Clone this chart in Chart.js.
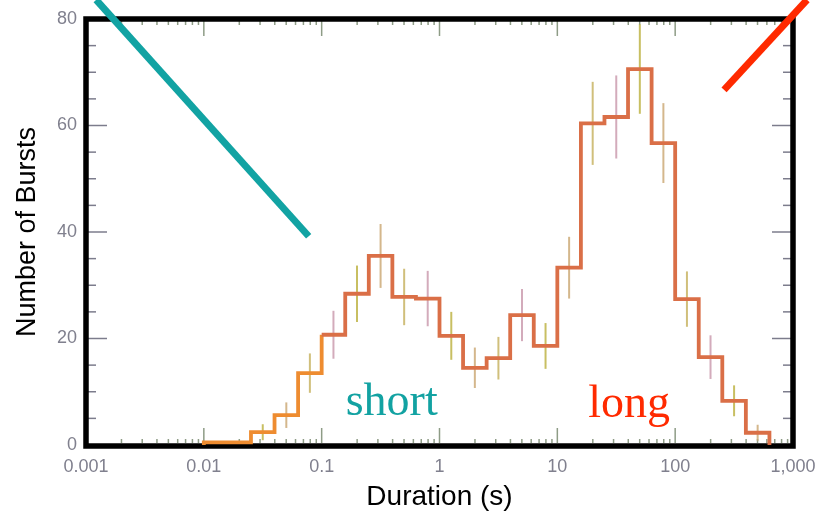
<!DOCTYPE html>
<html><head><meta charset="utf-8">
<script src="https://cdn.jsdelivr.net/npm/chart.js@4.4.1/dist/chart.umd.min.js"></script>
<style>html,body{margin:0;padding:0;background:#fff;}#wrap{width:821px;height:515px;position:relative;}</style>
</head><body><div id="wrap"><canvas id="c" width="821" height="515"></canvas></div>
<script>
// Histogram bins: left edges in log10(seconds), last value is final right edge
const binEdgesLog = [-2.0,-1.8,-1.6,-1.4,-1.2,-1.0,-0.8,-0.6,-0.4,-0.2,0.0,0.2,0.4,0.6,0.8,1.0,1.2,1.4,1.6,1.8,2.0,2.2,2.4,2.6,2.8];
const burstCounts = [0.5,0.5,2.4,5.6,13.5,20.7,28.4,35.5,27.8,27.5,20.5,14.5,16.3,24.4,18.6,33.3,60.4,61.6,70.6,56.7,27.4,16.5,8.3,2.3];
const countErrors = [0,0,1.5,2.4,3.7,4.5,5.3,6.0,5.3,5.2,4.5,3.8,4.0,4.9,4.3,5.8,7.8,7.8,8.4,7.5,5.2,4.1,2.9,1.5];
const xTickValues = [0.001,0.01,0.1,1,10,100,1000];
const xTickLabels = ['0.001','0.01','0.1','1','10','100','1,000'];
const yTickValues = [0,20,40,60,80];
const shortPointer = [{x:0.00122,y:83.6},{x:0.0776,y:39.2}];
const longPointer = [{x:1316,y:83.6},{x:260,y:66.7}];
const classLabels = [
  {text:'short', x:0.16, y:5.6, color:'#12a2a2'},
  {text:'long', x:18.3, y:5.3, color:'#ff2a00'}
];

const histPoints = [{x:Math.pow(10,binEdgesLog[0]), y:0}];
burstCounts.forEach((v,i)=>histPoints.push({x:Math.pow(10,binEdgesLog[i]), y:v}));
histPoints.push({x:Math.pow(10,binEdgesLog[binEdgesLog.length-1]), y:0});

const errPoints = [];
burstCounts.forEach((v,i)=>{
  const c = Math.pow(10,(binEdgesLog[i]+binEdgesLog[i+1])/2);
  errPoints.push({x:c,y:v-countErrors[i]},{x:c,y:v+countErrors[i]},{x:c,y:null});
});
const errColors = ['rgba(200,180,100,0.85)','rgba(200,150,170,0.8)','rgba(190,180,70,0.85)','rgba(205,170,120,0.85)'];

const frameTicks = {
  id:'frameTicks',
  beforeDatasetsDraw(chart){
    const {ctx, chartArea:a, scales:{x,y}} = chart;
    ctx.save();
    ctx.lineWidth = 1.5;
    ctx.strokeStyle = '#8e9c86';
    for (let d=-3; d<=3; d++){
      for (let m=1; m<=9; m++){
        const v = m*Math.pow(10,d);
        if (v>1000.001) break;
        const px = x.getPixelForValue(v);
        const len = m===1 ? 15 : 4;
        ctx.beginPath(); ctx.moveTo(px, a.bottom-2); ctx.lineTo(px, a.bottom-2-len); ctx.stroke();
        ctx.beginPath(); ctx.moveTo(px, a.top+2); ctx.lineTo(px, a.top+2+len); ctx.stroke();
      }
    }
    ctx.strokeStyle = '#7c7c8c';
    for (let v=0; v<=80; v+=5){
      const py = y.getPixelForValue(v);
      const len = v%20===0 ? 19 : 8;
      ctx.beginPath(); ctx.moveTo(a.left+2, py); ctx.lineTo(a.left+2+len, py); ctx.stroke();
      ctx.beginPath(); ctx.moveTo(a.right-2, py); ctx.lineTo(a.right-2-len, py); ctx.stroke();
    }
    ctx.lineWidth = 5.5;
    ctx.strokeStyle = '#000';
    ctx.strokeRect(a.left, a.top, a.right-a.left, a.bottom-a.top+1);
    ctx.restore();
  },
  afterDatasetsDraw(chart){
    const {ctx, scales:{x,y}} = chart;
    ctx.save();
    ctx.font = '46px "Liberation Serif", "Times New Roman", serif';
    ctx.textBaseline = 'alphabetic';
    ctx.textAlign = 'left';
    classLabels.forEach(l=>{
      ctx.fillStyle = l.color;
      ctx.fillText(l.text, x.getPixelForValue(l.x), y.getPixelForValue(l.y));
    });
    ctx.restore();
  }
};

new Chart(document.getElementById('c'), {
  type:'line',
  data:{datasets:[
    {data:shortPointer, borderColor:'#12a3a3', borderWidth:7, pointRadius:0, clip:false, borderCapStyle:'butt'},
    {data:longPointer, borderColor:'#ff2a00', borderWidth:7, pointRadius:0, clip:false, borderCapStyle:'butt'},
    {data:histPoints, stepped:'before', borderWidth:3.8, pointRadius:0, borderColor:'#da6f47',
      segment:{borderColor:c=> c.p0.parsed.x < 0.08 ? '#ee8c30' : '#da6f47'}},
    {data:errPoints, borderWidth:2, pointRadius:0, spanGaps:false, borderColor:errColors[0],
      segment:{borderColor:c=> errColors[Math.floor(c.p0DataIndex/3)%errColors.length]}}
  ]},
  options:{
    responsive:false, animation:false,
    layout:{padding:{top:19,right:28,left:0,bottom:0}},
    plugins:{legend:{display:false}, tooltip:{enabled:false}},
    scales:{
      x:{type:'logarithmic', min:0.001, max:1000,
        afterBuildTicks:s=>{s.ticks = xTickValues.map(v=>({value:v, major:true}));},
        afterFit:s=>{s.height = 70; s.paddingLeft = 0; s.paddingRight = 0;},
        grid:{display:false, drawTicks:false}, border:{display:false},
        ticks:{autoSkip:false, maxRotation:0, padding:11, color:'#80808e',
          font:{family:'"Liberation Sans", Arial, sans-serif', size:18},
          callback:(v,i)=>xTickLabels[i]},
        title:{display:true, text:'Duration (s)', color:'#000',
          font:{family:'"Liberation Sans", Arial, sans-serif', size:28}, padding:{top:0,bottom:1}}
      },
      y:{min:0, max:80,
        afterBuildTicks:s=>{s.ticks = yTickValues.map(v=>({value:v}));},
        afterFit:s=>{s.width = 86; s.paddingTop = 0; s.paddingBottom = 0;},
        grid:{display:false, drawTicks:false}, border:{display:false},
        ticks:{padding:9, color:'#80808e',
          font:{family:'"Liberation Sans", Arial, sans-serif', size:18}},
        title:{display:true, text:'Number of Bursts', color:'#000',
          font:{family:'"Liberation Sans", Arial, sans-serif', size:27}, padding:{top:11,bottom:0}}
      }
    }
  },
  plugins:[frameTicks]
});
</script></body></html>
